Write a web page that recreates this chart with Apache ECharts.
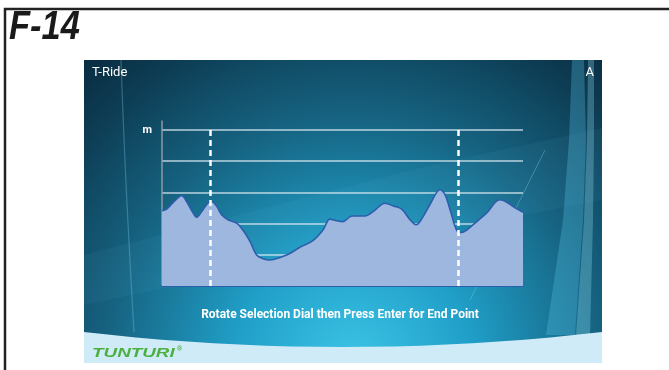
<!DOCTYPE html>
<html>
<head>
<meta charset="utf-8">
<script src="https://cdn.jsdelivr.net/npm/echarts@6/dist/echarts.min.js"></script>
<style>
html,body{margin:0;padding:0;background:#fff;}
#chart{width:669px;height:370px;}
</style>
</head>
<body>
<div id="chart"></div>
<script>
// Route profile: distance (% of route) and elevation (m)
const distance = [0, 1.3, 3.0, 5.5, 6.8, 8.6, 9.6, 11.0, 12.7, 13.8, 15.2, 16.5, 18.3, 20.7, 22.4, 24.4, 26.2, 28.0, 29.9, 32.7, 35.5, 38.2, 41.8, 44.6, 46.5, 48.4, 50.1, 52.1, 53.0, 56.2, 58.5, 61.8, 64.1, 66.4, 68.7, 70.4, 71.9, 74.2, 77.0, 78.4, 79.8, 81.6, 83.0, 84.4, 87.2, 89.9, 93.6, 95.5, 97.3, 100];
const elevation = [241, 246, 266, 289, 270, 234, 220, 238, 265, 270, 254, 228, 212, 201, 179, 142, 99, 87, 83, 91, 105, 124, 145, 179, 214, 209, 206, 222, 224, 224, 238, 265, 256, 246, 212, 196, 214, 260, 308, 292, 244, 179, 171, 179, 206, 233, 276, 268, 254, 236];
// Start / end point selection markers (distance)
const markerPositions = [13.3, 82.0];
const markerTop = 510;
// Y axis
const yTicks = [0, 100, 200, 300, 400, 500];
const yUnit = 'm';
// Texts
const pageTitle = 'F-14';
const screenTitle = 'T-Ride';
const screenMode = 'A';
const instruction = 'Rotate Selection Dial then Press Enter for End Point';
const brand = 'TUNTURI';

const points = distance.map((d, i) => [d, elevation[i]]);

// decorative bottom band outline (quadratic curve)
const bandPts = [];
for (let i = 0; i <= 20; i++) {
  const t = i / 20;
  const x = (1 - t) * (1 - t) * 84 + 2 * (1 - t) * t * 343 + t * t * 602;
  const y = (1 - t) * (1 - t) * 332 + 2 * (1 - t) * t * 362 + t * t * 332;
  bandPts.push([x, y]);
}
bandPts.push([602, 363], [84, 363]);

const chart = echarts.init(document.getElementById('chart'), null, {renderer: 'canvas'});
const splitColors = yTicks.map(v => v === 0 ? 'transparent' : 'rgba(214,230,238,0.85)');
splitColors.push('transparent');

chart.setOption({
  animation: false,
  backgroundColor: '#ffffff',
  grid: {left: 162, right: 146, top: 121, bottom: 84},
  xAxis: {
    type: 'value', min: 0, max: 100,
    axisLine: {show: true, lineStyle: {color: '#2d5eab', width: 2}},
    axisTick: {show: false}, axisLabel: {show: false}, splitLine: {show: false}
  },
  yAxis: {
    type: 'value', min: 0, max: 528, interval: 100,
    axisLine: {show: true, lineStyle: {color: '#8e9aa2', width: 1.5}},
    axisTick: {show: false},
    axisLabel: {
      margin: 10, color: '#ffffff', fontWeight: 'bold', fontSize: 11,
      fontFamily: 'Roboto, Arial, sans-serif',
      formatter: v => (v === yTicks[yTicks.length - 1] ? yUnit : '')
    },
    splitLine: {show: true, lineStyle: {color: splitColors, width: 1.5}}
  },
  graphic: [
    // page frame
    {type: 'rect', z: -10, shape: {x: 5, y: 9, width: 680, height: 380}, style: {fill: 'none', stroke: '#222', lineWidth: 2.5}},
    {type: 'text', z: -10, x: 9, y: 28, scaleX: 0.84, style: {x: 0, y: 0, text: pageTitle, fill: '#1a1a1a', font: 'italic bold 41px "Liberation Sans", Arial, sans-serif', verticalAlign: 'middle'}},
    // screen background
    {type: 'rect', z: -10, shape: {x: 84, y: 60, width: 518, height: 303},
      style: {fill: new echarts.graphic.RadialGradient(0.52, 1.0, 1.4, [
        {offset: 0, color: '#3cc4e6'},
        {offset: 0.28, color: '#209fc8'},
        {offset: 0.58, color: '#166381'},
        {offset: 0.82, color: '#0d3d54'},
        {offset: 1, color: '#08263a'}
      ])}},
    // soft swoosh
    {type: 'polygon', z: -9, shape: {points: [[84, 255], [250, 212], [420, 168], [602, 128], [602, 200], [420, 235], [250, 270], [84, 305]]},
      style: {fill: 'rgba(120,210,240,0.06)'}},
    // left thin streak
    {type: 'bezierCurve', z: -9, shape: {x1: 121, y1: 60, cpx1: 124, cpy1: 150, cpx2: 128, cpy2: 230, x2: 134, y2: 332}, style: {stroke: 'rgba(120,200,230,0.35)', lineWidth: 1.2, fill: null}},
    // right streaks
    {type: 'polygon', z: -9, shape: {points: [[572, 60], [569, 140], [563, 220], [546, 335], [575, 335], [583, 220], [586, 140], [584, 60]]}, style: {fill: 'rgba(90,200,235,0.3)'}},
    {type: 'polygon', z: -9, shape: {points: [[588, 60], [587, 140], [584, 220], [576, 335], [590, 335], [593, 220], [594, 140], [594, 60]]}, style: {fill: 'rgba(150,225,245,0.3)'}},
    {type: 'line', z: -9, shape: {x1: 470, y1: 300, x2: 545, y2: 150}, style: {stroke: 'rgba(140,215,240,0.35)', lineWidth: 1}},
    // bottom band
    {type: 'polygon', z: -8, shape: {points: bandPts}, style: {fill: '#d0ebf8'}},
    // screen texts
    {type: 'text', z: 5, style: {x: 92, y: 73, text: screenTitle, fill: '#ffffff', font: '13px Roboto, Arial, sans-serif', verticalAlign: 'middle'}},
    {type: 'text', z: 5, style: {x: 594, y: 73, text: screenMode, fill: '#ffffff', font: '13px Roboto, Arial, sans-serif', align: 'right', verticalAlign: 'middle'}},
    {type: 'text', z: 5, style: {x: 340, y: 315, text: instruction, fill: '#ffffff', font: 'bold 12px Roboto, Arial, sans-serif', align: 'center', verticalAlign: 'middle'}},
    {type: 'text', z: 5, x: 92, y: 353, scaleX: 1.45, style: {x: 0, y: 0, text: brand, fill: '#4cb040', font: 'italic 900 13px "Liberation Sans", Arial, sans-serif', verticalAlign: 'middle'}},
    {type: 'text', z: 5, style: {x: 177, y: 349, text: '®', fill: '#4cb040', font: 'bold 7px Arial, sans-serif', verticalAlign: 'middle'}}
  ],
  series: [{
    type: 'line',
    data: points,
    smooth: 0.35,
    symbol: 'none',
    lineStyle: {color: '#2d5dab', width: 1.6},
    areaStyle: {color: '#9db7df', opacity: 1},
    markLine: {
      silent: true,
      symbol: 'none',
      label: {show: false},
      lineStyle: {color: '#ffffff', width: 2.5, type: [6, 4], opacity: 1},
      data: markerPositions.map(p => [{coord: [p, 0]}, {coord: [p, markerTop]}])
    }
  }]
});
</script>
</body>
</html>
